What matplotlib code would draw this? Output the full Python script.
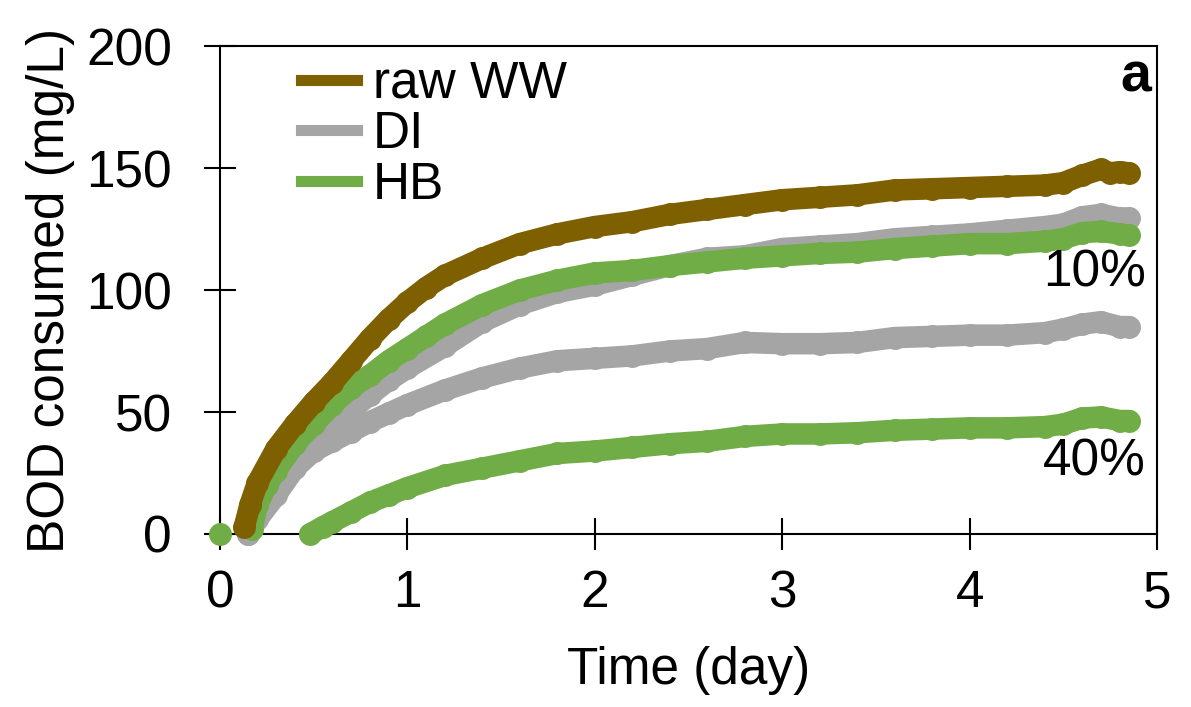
import numpy as np
import matplotlib.pyplot as plt
from matplotlib.lines import Line2D

plt.rcParams['font.family'] = ['Liberation Sans', 'DejaVu Sans']

# time (day) and BOD consumed (mg/L)
t_ww = [0.13, 0.16, 0.2, 0.3, 0.4, 0.5, 0.6, 0.7, 0.8, 0.9, 1.0, 1.1, 1.2, 1.4, 1.6, 1.8,
        2.0, 2.2, 2.4, 2.6, 2.8, 3.0, 3.2, 3.4, 3.6, 3.8, 4.0, 4.2, 4.4, 4.5, 4.6, 4.7, 4.75, 4.8, 4.85]
bod_ww = [3, 12, 21, 35, 45, 54, 62, 71, 80, 88, 95, 101, 106, 113, 119, 123,
          126, 128, 131, 133, 135, 137, 138, 139, 141, 141.5, 142, 142.5, 143, 144, 147, 149.5, 148, 148.5, 148]

t_di = [0.15, 0.2, 0.3, 0.4, 0.5, 0.6, 0.7, 0.8, 0.9, 1.0, 1.2, 1.4, 1.6, 1.8,
        2.0, 2.2, 2.4, 2.6, 2.8, 3.0, 3.2, 3.4, 3.6, 3.8, 4.0, 4.2, 4.4, 4.5, 4.6, 4.7, 4.8, 4.85]
bod_di10 = [0, 7, 18, 30, 40, 45, 51, 57, 63, 68, 77, 87, 94, 99,
            102, 106, 110, 113, 114, 117, 118, 119, 121, 122, 123, 124.5, 126, 127, 130, 131, 129.5, 129.5]
bod_di40 = [0, 6, 16, 27, 34, 38, 42, 46, 49.5, 53, 59, 64, 68, 71,
            72, 73, 75, 76, 78.5, 78, 78, 78.5, 80.5, 81, 81.5, 81.5, 82.5, 84, 86, 87, 85, 85]

t_hb10 = [0.0, np.nan, 0.17, 0.2, 0.25, 0.3, 0.4, 0.5, 0.6, 0.7, 0.8, 0.9, 1.0, 1.1, 1.2, 1.4, 1.6, 1.8,
          2.0, 2.2, 2.4, 2.6, 2.8, 3.0, 3.2, 3.4, 3.6, 3.8, 4.0, 4.2, 4.4, 4.5, 4.6, 4.7, 4.8, 4.85]
bod_hb10 = [0, np.nan, 2, 12, 20, 26, 37, 45, 53, 60, 65, 71, 76, 81, 86, 94, 100, 104,
            107, 108, 110, 111.5, 113, 114, 115, 115.5, 117, 118, 119, 119, 120, 121, 123.5, 124, 123, 122.5]

t_hb40 = [0.48, 0.55, 0.6, 0.7, 0.8, 0.9, 1.0, 1.2, 1.4, 1.6, 1.8,
          2.0, 2.2, 2.4, 2.6, 2.8, 3.0, 3.2, 3.4, 3.6, 3.8, 4.0, 4.2, 4.4, 4.5, 4.6, 4.7, 4.8, 4.85]
bod_hb40 = [0, 3, 5, 9, 13, 16, 19, 24, 27, 30, 33,
            34, 35.5, 37, 38, 40, 41, 41, 41.5, 42.5, 43, 43.5, 43.5, 44, 45, 47.5, 48, 46.5, 46.5]

c_ww = '#7F6000'
c_di = '#A5A5A5'
c_hb = '#70AD47'

fig = plt.figure(figsize=(11.91, 7.07), dpi=100)
ax = fig.add_axes([0.1847, 0.2447, 0.7868, 0.6902])

ms = 15.5
style = dict(lw=ms, marker='o', ms=ms, solid_capstyle='round', solid_joinstyle='round',
             clip_on=False, zorder=3)
ax.plot(t_di, bod_di40, color=c_di, **style)
ax.plot(t_hb40, bod_hb40, color=c_hb, **style)
ax.plot(t_di, bod_di10, color=c_di, **style)
ax.plot(t_hb10, bod_hb10, color=c_hb, **style)
ax.plot(t_ww, bod_ww, color=c_ww, **style)

ax.set_xlim(0, 5)
ax.set_ylim(0, 200)
ax.set_xticks([0, 1, 2, 3, 4, 5])
ax.set_yticks([0, 50, 100, 150, 200])
ax.tick_params(direction='inout', length=23, width=1.5, labelsize=37)
ax.tick_params(axis='x', pad=14)
ax.tick_params(axis='y', pad=23)
for s in ax.spines.values():
    s.set_linewidth(1.5)

ax.set_xlabel('Time (day)', fontsize=37, labelpad=20)
ax.set_ylabel('BOD consumed (mg/L)', fontsize=37, labelpad=8)

ax.text(4.94, 107, '10%', fontsize=37, ha='right', va='center')
ax.text(4.94, 29.5, '40%', fontsize=37, ha='right', va='center')
ax.text(4.97, 187, 'a', fontsize=40, fontweight='bold', ha='right', va='center')

handles = [Line2D([], [], color=c_ww, lw=8),
           Line2D([], [], color=c_di, lw=8),
           Line2D([], [], color=c_hb, lw=8)]
ax.legend(handles, ['raw WW', 'DI', 'HB'], loc='upper left', bbox_to_anchor=(0.086, 0.972),
          frameon=False, fontsize=37, handlelength=1.1, handletextpad=0.3,
          labelspacing=0.03, borderpad=0, borderaxespad=0)

fig.savefig('out.png', dpi=100)
